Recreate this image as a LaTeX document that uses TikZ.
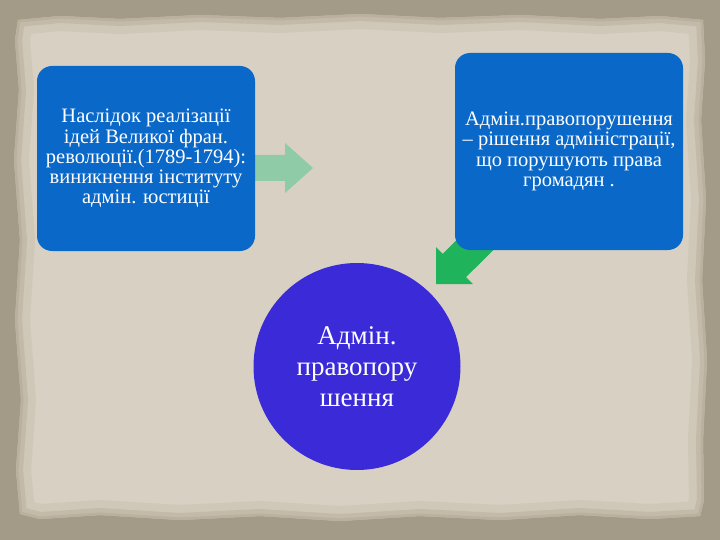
\documentclass[tikz,border=0pt]{standalone}
\usepackage{fontspec}
\setmainfont{Liberation Serif}
\definecolor{outerbg}{HTML}{A39A87}
\definecolor{paper}{HTML}{D8D1C3}
\definecolor{paperedge}{HTML}{B5AC98}
\definecolor{boxblue}{HTML}{0A68C8}
\definecolor{circblue}{HTML}{3A2AD8}
\definecolor{lightgreen}{HTML}{8ECBA6}
\definecolor{darkgreen}{HTML}{1FB35C}
\tikzset{
  infobox/.style={fill=boxblue, rounded corners=15pt, inner sep=0pt, text=white,
    font=\fontsize{20.5}{20.3}\selectfont, align=center},
  bigcircle/.style={circle, fill=circblue, minimum size=207pt, inner sep=0pt, text=white,
    font=\fontsize{27}{31}\selectfont, align=center},
  arrowfill/.style={draw=none}
}
\begin{document}
\begin{tikzpicture}[x=1pt,y=-1pt]
\useasboundingbox (0,0) rectangle (720,540);
\fill[outerbg] (0,0) rectangle (720,540);
% paper
\def\paperpath{(18,20) -- (60,16) -- (120,19) -- (200,15) -- (280,18) -- (360,14) -- (440,18) -- (520,15) -- (600,19) -- (660,16) -- (703,20) -- (705,60) -- (701,120) -- (706,200) -- (702,280) -- (707,360) -- (703,440) -- (704,500) -- (700,516) -- (650,519) -- (580,515) -- (500,520) -- (420,516) -- (340,521) -- (260,516) -- (180,520) -- (100,515) -- (40,519) -- (20,514) -- (16,470) -- (21,400) -- (15,320) -- (20,240) -- (14,160) -- (19,90) -- (15,40) -- cycle}
\fill[paper] \paperpath;
\begin{scope}
\clip \paperpath;
\draw[paperedge, line width=30pt, opacity=0.25] \paperpath;
\draw[paperedge, line width=14pt, opacity=0.45] \paperpath;
\draw[paperedge, line width=5pt, opacity=0.7] \paperpath;
\end{scope}
% arrows (behind boxes)
\fill[lightgreen, arrowfill] (255,155) -- (285,155) -- (285,143) -- (313,168) -- (285,193) -- (285,181) -- (255,181) -- cycle;
\fill[darkgreen, arrowfill] (436,284) -- (436,247.2) -- (442.7,253.9) -- (480.9,215.7) -- (504.3,239.1) -- (466.1,277.1) -- (472.8,284) -- cycle;
% boxes
\node[infobox, minimum width=218pt, minimum height=185pt] (left) at (146,158.5)
  {Наслідок реалізації\\ідей Великої фран.\\революції.(1789-1794):\\виникнення інституту\\адмін. юстиції};
\node[infobox, minimum width=228pt, minimum height=197pt] (right) at (569,151.5)
  {Адмін.правопорушення\\– рішення адміністрації,\\що порушують права\\громадян .};
\node[bigcircle] (circ) at (357,366.5) {Адмін.\\правопору\\шення};
\end{tikzpicture}
\end{document}
